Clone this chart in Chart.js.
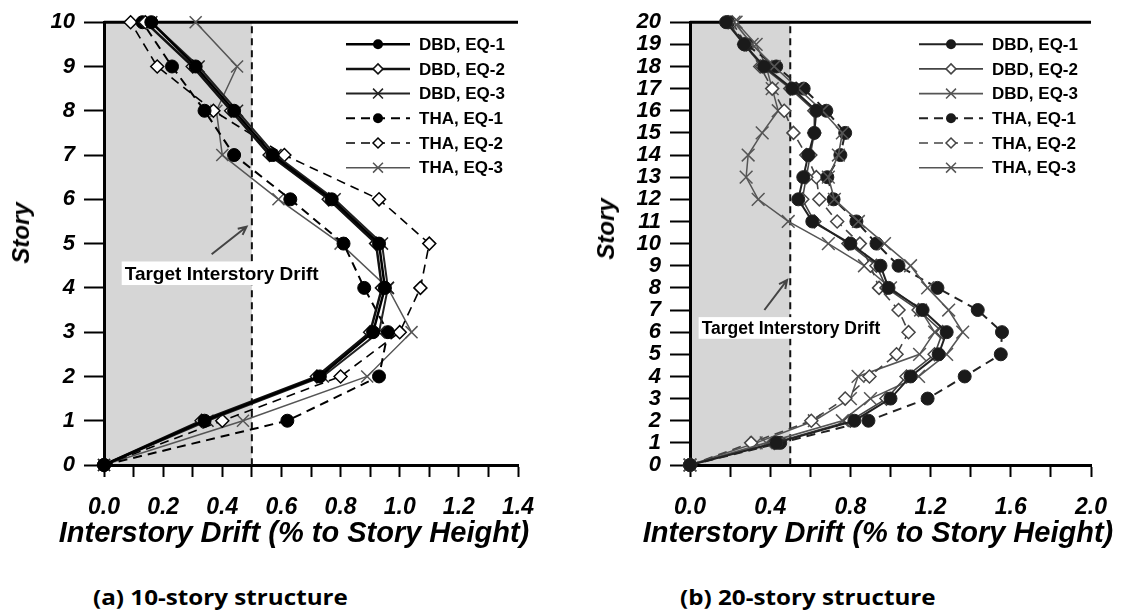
<!DOCTYPE html>
<html>
<head>
<meta charset="utf-8">
<script src="https://cdn.jsdelivr.net/npm/chart.js@4.4.1/dist/chart.umd.min.js"></script>
<style>
  html, body { margin: 0; padding: 0; background: #fff; }
  #page { position: relative; width: 1124px; height: 611px; overflow: hidden; }
  .box { position: absolute; top: 0; width: 562px; height: 560px; }
  .xtitle { position: absolute; font: italic bold 29px "Liberation Sans", Arial, sans-serif; white-space: nowrap; transform: translate(-50%, -50%); }
  .ytitle { position: absolute; font: italic bold 24px "Liberation Sans", Arial, sans-serif; white-space: nowrap; transform: translate(-50%, -50%) rotate(-90deg); }
  .caption { position: absolute; top: 585px; font: bold 22px "Open Sans", sans-serif; line-height: 1; white-space: nowrap; transform-origin: left center; transform: scaleX(1.1); }
</style>
</head>
<body>
<div id="page">
  <div class="box" style="left:0"><canvas id="c10" width="562" height="560"></canvas></div>
  <div class="box" style="left:562px"><canvas id="c20" width="562" height="560"></canvas></div>
  <div class="ytitle" style="left:21px; top:233px">Story</div>
  <div class="ytitle" style="left:606px; top:229px">Story</div>
  <div class="xtitle" style="left:294px; top:532px">Interstory Drift (% to Story Height)</div>
  <div class="xtitle" style="left:878px; top:532px">Interstory Drift (% to Story Height)</div>
  <div class="caption" style="left:93px">(a) 10-story structure</div>
  <div class="caption" style="left:680px">(b) 20-story structure</div>
</div>
<script>
// series names (legend order)
const seriesNames = ['DBD, EQ-1', 'DBD, EQ-2', 'DBD, EQ-3', 'THA, EQ-1', 'THA, EQ-2', 'THA, EQ-3'];

// (a) 10-story: drift (%) per story, story 0 .. 10
const stories10 = [0, 1, 2, 3, 4, 5, 6, 7, 8, 9, 10];
const dbd1_10 = [0, 0.34, 0.73, 0.91, 0.95, 0.93, 0.77, 0.57, 0.44, 0.31, 0.16];
const dbd2_10 = [0, 0.33, 0.72, 0.90, 0.94, 0.92, 0.76, 0.56, 0.43, 0.30, 0.14];
const dbd3_10 = [0, 0.35, 0.74, 0.93, 0.96, 0.94, 0.78, 0.58, 0.45, 0.32, 0.16];
const tha1_10 = [0, 0.62, 0.93, 0.96, 0.88, 0.81, 0.63, 0.44, 0.34, 0.23, 0.13];
const tha2_10 = [0, 0.40, 0.80, 1.00, 1.07, 1.10, 0.93, 0.61, 0.37, 0.18, 0.09];
const tha3_10 = [0, 0.47, 0.89, 1.04, 0.96, 0.80, 0.59, 0.40, 0.38, 0.45, 0.31];

// (b) 20-story: drift (%) per story, story 0 .. 20
const stories20 = [0, 1, 2, 3, 4, 5, 6, 7, 8, 9, 10, 11, 12, 13, 14, 15, 16, 17, 18, 19, 20];
const dbd1_20 = [0, 0.43, 0.82, 1.00, 1.10, 1.24, 1.28, 1.16, 0.99, 0.95, 0.80, 0.61, 0.54, 0.565, 0.59, 0.62, 0.63, 0.51, 0.37, 0.27, 0.18];
const dbd2_20 = [0, 0.42, 0.80, 0.98, 1.08, 1.22, 1.26, 1.14, 0.98, 0.93, 0.79, 0.62, 0.56, 0.58, 0.60, 0.62, 0.62, 0.50, 0.36, 0.27, 0.19];
const dbd3_20 = [0, 0.38, 0.76, 0.90, 1.14, 1.28, 1.36, 1.29, 1.185, 1.10, 0.97, 0.84, 0.72, 0.69, 0.74, 0.76, 0.66, 0.54, 0.42, 0.31, 0.22];
const tha1_20 = [0, 0.45, 0.89, 1.185, 1.37, 1.55, 1.556, 1.435, 1.234, 1.04, 0.93, 0.83, 0.716, 0.685, 0.75, 0.774, 0.68, 0.567, 0.43, 0.28, 0.19];
const tha2_20 = [0, 0.305, 0.605, 0.774, 0.895, 1.03, 1.09, 1.04, 0.943, 0.90, 0.847, 0.734, 0.645, 0.63, 0.58, 0.516, 0.47, 0.41, 0.35, 0.28, 0.21];
const tha3_20 = [0, 0.33, 0.62, 0.80, 0.838, 1.145, 1.22, 1.15, 1.00, 0.87, 0.69, 0.49, 0.34, 0.28, 0.29, 0.36, 0.44, 0.41, 0.38, 0.33, 0.23];

// x tick labels
const xLabels10 = [0.0, 0.2, 0.4, 0.6, 0.8, 1.0, 1.2, 1.4];
const xLabels20 = [0.0, 0.4, 0.8, 1.2, 1.6, 2.0];
const targetDrift = 0.5;

const FONT = '"Liberation Sans", Arial, sans-serif';

const style10 = [
  { color: '#000', width: 2.5, dash: [], point: 'circle', fill: '#000', r: 6.5 },
  { color: '#111', width: 2.5, dash: [], point: 'rectRot', fill: '#fff', r: 6.5 },
  { color: '#222', width: 2, dash: [], point: 'crossRot', fill: '#222', r: 8.5 },
  { color: '#000', width: 2, dash: [9, 6], point: 'circle', fill: '#000', r: 6.5 },
  { color: '#000', width: 1.6, dash: [9, 6], point: 'rectRot', fill: '#fff', r: 6.5 },
  { color: '#555', width: 1.5, dash: [], point: 'crossRot', fill: '#555', r: 8.5 }
];
const style20 = [
  { color: '#222', width: 2, dash: [], point: 'circle', fill: '#1a1a1a', r: 6.5 },
  { color: '#444', width: 1.6, dash: [], point: 'rectRot', fill: '#fff', r: 6.5 },
  { color: '#555', width: 1.6, dash: [], point: 'crossRot', fill: '#555', r: 9 },
  { color: '#222', width: 2, dash: [9, 6], point: 'circle', fill: '#1a1a1a', r: 6.5 },
  { color: '#444', width: 1.6, dash: [9, 6], point: 'rectRot', fill: '#fff', r: 6.5 },
  { color: '#555', width: 1.5, dash: [], point: 'crossRot', fill: '#555', r: 9 }
];

function drawMarker(ctx, kind, x, y, r, fill, stroke) {
  ctx.beginPath();
  if (kind === 'circle') {
    ctx.arc(x, y, r, 0, Math.PI * 2);
    ctx.fillStyle = fill; ctx.fill();
  } else if (kind === 'rectRot') {
    ctx.moveTo(x, y - r); ctx.lineTo(x + r, y); ctx.lineTo(x, y + r); ctx.lineTo(x - r, y); ctx.closePath();
    ctx.fillStyle = fill; ctx.fill();
    ctx.strokeStyle = stroke; ctx.lineWidth = 1.5; ctx.stroke();
  } else {
    const d = r * 0.707;
    ctx.moveTo(x - d, y - d); ctx.lineTo(x + d, y + d);
    ctx.moveTo(x + d, y - d); ctx.lineTo(x - d, y + d);
    ctx.strokeStyle = stroke; ctx.lineWidth = 1.5; ctx.stroke();
  }
}

// shaded band below the target drift
const band = {
  id: 'band',
  beforeDraw(chart) {
    const { ctx, chartArea: a, scales: { x } } = chart;
    ctx.save();
    ctx.fillStyle = '#d6d6d6';
    ctx.fillRect(a.left, a.top, x.getPixelForValue(targetDrift) - a.left, a.bottom - a.top);
    ctx.restore();
  },
  beforeDatasetsDraw(chart) {
    const { ctx, chartArea: a, scales: { x } } = chart;
    const xt = x.getPixelForValue(targetDrift);
    ctx.save();
    ctx.strokeStyle = '#111';
    ctx.lineWidth = 2;
    ctx.setLineDash([7, 5]);
    ctx.beginPath(); ctx.moveTo(xt, a.top + 4); ctx.lineTo(xt, a.bottom); ctx.stroke();
    ctx.setLineDash([]);
    ctx.strokeStyle = '#000';
    ctx.lineWidth = 3;
    ctx.beginPath(); ctx.moveTo(a.left, a.top); ctx.lineTo(a.right, a.top); ctx.stroke();
    ctx.restore();
  }
};

// "Target Interstory Drift" label with arrow
const note = {
  id: 'note',
  afterDatasetsDraw(chart, args, o) {
    const { ctx, scales: { x, y } } = chart;
    const x1 = x.getPixelForValue(o.from[0]), y1 = y.getPixelForValue(o.from[1]);
    const x2 = x.getPixelForValue(o.to[0]), y2 = y.getPixelForValue(o.to[1]);
    ctx.save();
    ctx.strokeStyle = '#444';
    ctx.lineWidth = 2;
    ctx.beginPath(); ctx.moveTo(x1, y1); ctx.lineTo(x2, y2);
    const ang = Math.atan2(y2 - y1, x2 - x1);
    ctx.moveTo(x2 - 9 * Math.cos(ang - 0.45), y2 - 9 * Math.sin(ang - 0.45));
    ctx.lineTo(x2, y2);
    ctx.lineTo(x2 - 9 * Math.cos(ang + 0.45), y2 - 9 * Math.sin(ang + 0.45));
    ctx.stroke();

    ctx.font = 'bold ' + o.size + 'px ' + FONT;
    const tx = x.getPixelForValue(o.at[0]), ty = y.getPixelForValue(o.at[1]);
    const w = ctx.measureText(o.text).width;
    ctx.fillStyle = '#fff';
    ctx.fillRect(tx - 3, ty - o.size * 0.62, w + 6, o.size * 1.24);
    ctx.fillStyle = '#000';
    ctx.textBaseline = 'middle';
    ctx.fillText(o.text, tx, ty + 1);
    ctx.restore();
  }
};

// legend inside the plot, top right
const insideLegend = {
  id: 'insideLegend',
  afterDraw(chart, args, o) {
    const { ctx, chartArea: a } = chart;
    const x0 = a.right - 172;
    ctx.save();
    chart.data.datasets.forEach((ds, i) => {
      const yy = a.top + 22 + i * 24.7;
      ctx.strokeStyle = ds.borderColor;
      ctx.lineWidth = ds.borderWidth;
      ctx.setLineDash(ds.borderDash);
      ctx.beginPath(); ctx.moveTo(x0, yy); ctx.lineTo(x0 + 64, yy); ctx.stroke();
      ctx.setLineDash([]);
      drawMarker(ctx, ds.pointStyle, x0 + 32, yy, ds.pointStyle === 'crossRot' ? 7 : 5, ds.pointBackgroundColor, ds.pointBorderColor);
      ctx.fillStyle = '#000';
      ctx.font = 'bold 17px ' + FONT;
      ctx.textBaseline = 'middle';
      ctx.fillText(ds.label, x0 + 73, yy + 1);
    });
    ctx.restore();
  }
};

function makeChart(id, stories, series, styles, xMax, xStep, yMax, xLabels, yWidth, padRight, noteOpts) {
  const datasets = series.map((vals, i) => {
    const st = styles[i];
    return {
      label: seriesNames[i],
      data: stories.map((s, k) => ({ x: vals[k], y: s })),
      showLine: true,
      borderColor: st.color,
      borderWidth: st.width,
      borderDash: st.dash,
      pointStyle: st.point,
      pointRadius: st.r,
      pointHoverRadius: st.r,
      pointBackgroundColor: st.fill,
      pointBorderColor: st.color,
      pointBorderWidth: st.point === 'circle' ? 1 : 1.5,
      clip: false
    };
  });
  return new Chart(document.getElementById(id), {
    type: 'scatter',
    data: { datasets },
    plugins: [band, note, insideLegend],
    options: {
      responsive: false,
      animation: false,
      devicePixelRatio: 1,
      layout: { padding: { left: 0, right: padRight, top: 22, bottom: 0 } },
      plugins: {
        legend: { display: false },
        tooltip: { enabled: false },
        note: noteOpts
      },
      scales: {
        x: {
          type: 'linear', min: 0, max: xMax,
          afterFit: s => { s.height = 95; },
          grid: { drawOnChartArea: false, drawTicks: true, tickLength: 12, tickWidth: 2, tickColor: '#000' },
          border: { display: true, color: '#000', width: 3 },
          ticks: {
            stepSize: xStep, autoSkip: false, maxRotation: 0, padding: 17, color: '#000',
            font: { family: FONT, size: 23, style: 'italic', weight: 'bold' },
            callback: v => xLabels.some(l => Math.abs(l - v) < 1e-6) ? v.toFixed(1) : ''
          }
        },
        y: {
          type: 'linear', min: 0, max: yMax,
          afterFit: s => { s.width = yWidth; },
          grid: { drawOnChartArea: false, drawTicks: true, tickLength: 20, tickWidth: 2, tickColor: '#000' },
          border: { display: true, color: '#000', width: 3 },
          ticks: {
            stepSize: 1, autoSkip: false, padding: 9, color: '#000',
            font: { family: FONT, size: 22, style: 'italic', weight: 'bold' }
          }
        }
      }
    }
  });
}

makeChart('c10', stories10, [dbd1_10, dbd2_10, dbd3_10, tha1_10, tha2_10, tha3_10], style10,
  1.4, 0.1, 10, xLabels10, 104, 44,
  { text: 'Target Interstory Drift', size: 19, at: [0.07, 4.33], from: [0.364, 4.76], to: [0.482, 5.38] });

makeChart('c20', stories20, [dbd1_20, dbd2_20, dbd3_20, tha1_20, tha2_20, tha3_20], style20,
  2.0, 0.2, 20, xLabels20, 128, 21,
  { text: 'Target Interstory Drift', size: 17.5, at: [0.058, 6.19], from: [0.371, 7.0], to: [0.484, 8.35] });
</script>
</body>
</html>
